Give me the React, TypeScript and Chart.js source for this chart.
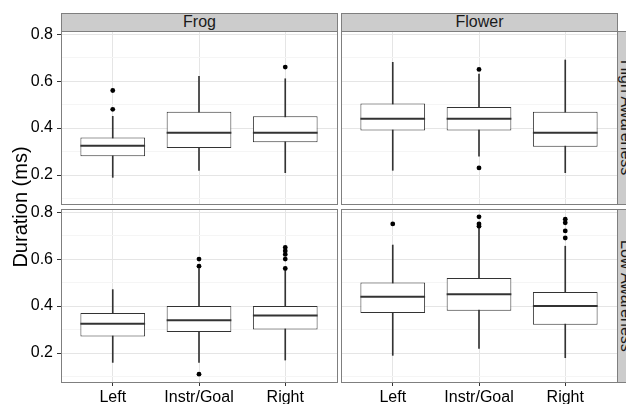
import React, { useEffect, useRef } from 'react';
import { Chart, registerables } from 'chart.js';

Chart.register(...registerables);

// ---------- data ----------
const categories = ['Left', 'Instr/Goal', 'Right'];
const columnLabels = ['Frog', 'Flower'];
const rowLabels = ['High Awareness', 'Low Awareness'];
const yMajorTicks = [0.2, 0.4, 0.6, 0.8];
const yMinorTicks = [0.1, 0.3, 0.5, 0.7];
const yMin = 0.0765;
const yMax = 0.8135;

// Frog / High Awareness
const frogHighLow = [0.19, 0.22, 0.21];
const frogHighQ1 = [0.28, 0.315, 0.34];
const frogHighMedian = [0.325, 0.38, 0.38];
const frogHighQ3 = [0.36, 0.47, 0.45];
const frogHighHigh = [0.45, 0.62, 0.61];
const frogHighOutliers = [[0.48, 0.56], [], [0.66]];

// Flower / High Awareness
const flowerHighLow = [0.22, 0.28, 0.21];
const flowerHighQ1 = [0.39, 0.39, 0.32];
const flowerHighMedian = [0.44, 0.44, 0.38];
const flowerHighQ3 = [0.505, 0.49, 0.47];
const flowerHighHigh = [0.68, 0.63, 0.69];
const flowerHighOutliers = [[], [0.23, 0.65], []];

// Frog / Low Awareness
const frogLowLow = [0.16, 0.16, 0.17];
const frogLowQ1 = [0.27, 0.29, 0.3];
const frogLowMedian = [0.325, 0.34, 0.36];
const frogLowQ3 = [0.37, 0.4, 0.4];
const frogLowHigh = [0.47, 0.56, 0.55];
const frogLowOutliers = [[], [0.11, 0.57, 0.6], [0.56, 0.6, 0.62, 0.635, 0.65]];

// Flower / Low Awareness
const flowerLowLow = [0.19, 0.22, 0.18];
const flowerLowQ1 = [0.37, 0.38, 0.32];
const flowerLowMedian = [0.44, 0.45, 0.4];
const flowerLowQ3 = [0.5, 0.52, 0.46];
const flowerLowHigh = [0.66, 0.73, 0.655];
const flowerLowOutliers = [[0.75], [0.74, 0.75, 0.78], [0.69, 0.72, 0.755, 0.77]];

type BoxSet = {
  low: number[];
  q1: number[];
  median: number[];
  q3: number[];
  high: number[];
  outliers: number[][];
};

const panelData: BoxSet[][] = [
  [
    { low: frogHighLow, q1: frogHighQ1, median: frogHighMedian, q3: frogHighQ3, high: frogHighHigh, outliers: frogHighOutliers },
    { low: flowerHighLow, q1: flowerHighQ1, median: flowerHighMedian, q3: flowerHighQ3, high: flowerHighHigh, outliers: flowerHighOutliers },
  ],
  [
    { low: frogLowLow, q1: frogLowQ1, median: frogLowMedian, q3: frogLowQ3, high: frogLowHigh, outliers: frogLowOutliers },
    { low: flowerLowLow, q1: flowerLowQ1, median: flowerLowMedian, q3: flowerLowQ3, high: flowerLowHigh, outliers: flowerLowOutliers },
  ],
];

// ---------- layout ----------
const W = 626;
const H = 404;
const colBounds = [
  { left: 61, right: 337 },
  { left: 341, right: 617 },
];
const rowBounds = [
  { top: 31, bottom: 204 },
  { top: 209, bottom: 382 },
];
const FONT = "'Liberation Sans', Arial, Helvetica, sans-serif";

Chart.defaults.font.family = FONT;

function makeMedianPlugin(median: number[]) {
  return {
    id: 'medianLines',
    afterDatasetsDraw(chart: any) {
      const meta = chart.getDatasetMeta(1);
      const ys = chart.scales.y;
      const ctx = chart.ctx;
      ctx.save();
      ctx.strokeStyle = '#333333';
      ctx.lineWidth = 2;
      meta.data.forEach((el: any, i: number) => {
        const p = el.getProps(['x', 'width'], true);
        const y = ys.getPixelForValue(median[i]);
        ctx.beginPath();
        ctx.moveTo(p.x - p.width / 2, y);
        ctx.lineTo(p.x + p.width / 2, y);
        ctx.stroke();
      });
      ctx.restore();
    },
  };
}

const panelBorderPlugin = {
  id: 'panelBorder',
  afterDraw(chart: any) {
    const ca = chart.chartArea;
    const ctx = chart.ctx;
    ctx.save();
    ctx.strokeStyle = '#7f7f7f';
    ctx.lineWidth = 1;
    ctx.strokeRect(ca.left + 0.5, ca.top + 0.5, ca.right - ca.left, ca.bottom - ca.top);
    ctx.restore();
  },
};

function Panel({ row, col }: { row: number; col: number }) {
  const ref = useRef<HTMLCanvasElement | null>(null);
  useEffect(() => {
    if (!ref.current) return;
    const d = panelData[row][col];
    const cb = colBounds[col];
    const rb = rowBounds[row];
    const showY = col === 0;
    const showX = row === 1;
    const chart = new Chart(ref.current, {
      type: 'bar',
      data: {
        datasets: [
          {
            type: 'bar',
            data: categories.map((_, i) => ({ x: i + 1, y: [d.low[i], d.high[i]] })) as any,
            backgroundColor: '#333333',
            borderWidth: 0,
            barThickness: 1,
            grouped: false,
            order: 3,
          } as any,
          {
            type: 'bar',
            data: categories.map((_, i) => ({ x: i + 1, y: [d.q1[i], d.q3[i]] })) as any,
            backgroundColor: '#ffffff',
            borderColor: '#333333',
            borderWidth: 1,
            borderSkipped: false,
            grouped: false,
            categoryPercentage: 1,
            barPercentage: 0.75,
            order: 2,
          } as any,
          {
            type: 'scatter',
            data: d.outliers.flatMap((arr, i) => arr.map((v) => ({ x: i + 1, y: v }))),
            pointRadius: 2.4,
            pointBackgroundColor: '#000000',
            pointBorderWidth: 0,
            order: 1,
          } as any,
        ],
      },
      options: {
        animation: false,
        responsive: false,
        events: [],
        layout: {
          padding: {
            left: showY ? 0 : cb.left,
            right: W - cb.right,
            top: rb.top,
            bottom: showX ? 0 : H - rb.bottom,
          },
        },
        plugins: { legend: { display: false }, tooltip: { enabled: false } },
        scales: {
          x: {
            type: 'linear',
            min: 0.4,
            max: 3.6,
            offset: false,
            afterBuildTicks: (s: any) => {
              s.ticks = categories.map((_, i) => ({ value: i + 1 }));
            },
            afterFit: (s: any) => {
              s.height = showX ? H - rb.bottom : 0;
            },
            ticks: {
              display: showX,
              autoSkip: false,
              maxRotation: 0,
              padding: 2,
              color: '#000000',
              font: { size: 16, family: FONT },
              callback: (v: any) => categories[Math.round(Number(v)) - 1],
            },
            grid: {
              color: '#e5e5e5',
              offset: false,
              drawTicks: showX,
              tickLength: 4,
              tickColor: '#333333',
            },
            border: { display: false },
          },
          y: {
            type: 'linear',
            position: 'left',
            min: yMin,
            max: yMax,
            afterBuildTicks: (s: any) => {
              s.ticks = yMajorTicks.map((v) => ({ value: v }));
            },
            afterFit: (s: any) => {
              s.width = showY ? cb.left : 0;
            },
            ticks: {
              display: showY,
              padding: 4,
              color: '#000000',
              font: { size: 16, family: FONT },
              callback: (v: any) => Number(v).toFixed(1),
            },
            grid: {
              color: '#e5e5e5',
              drawTicks: showY,
              tickLength: 4,
              tickColor: '#333333',
            },
            border: { display: false },
          },
          ym: {
            type: 'linear',
            position: 'left',
            min: yMin,
            max: yMax,
            afterBuildTicks: (s: any) => {
              s.ticks = yMinorTicks.map((v) => ({ value: v }));
            },
            afterFit: (s: any) => {
              s.width = 0;
            },
            ticks: { display: false },
            grid: { color: '#f5f5f5', drawTicks: false },
            border: { display: false },
          },
        },
      } as any,
      plugins: [makeMedianPlugin(d.median), panelBorderPlugin],
    });
    return () => chart.destroy();
  }, [row, col]);
  return (
    <canvas
      ref={ref}
      width={W}
      height={H}
      style={{ position: 'absolute', left: 0, top: 0, width: W, height: H }}
    />
  );
}

const stripBase: React.CSSProperties = {
  position: 'absolute',
  boxSizing: 'border-box',
  background: '#cccccc',
  border: '1px solid #7f7f7f',
  color: '#1a1a1a',
  fontFamily: FONT,
  fontSize: 16,
  textAlign: 'center',
  whiteSpace: 'nowrap',
};

export default function App() {
  return (
    <div
      style={{
        position: 'fixed',
        left: 0,
        top: 0,
        width: W,
        height: H,
        overflow: 'hidden',
        background: '#ffffff',
      }}
    >
      {[0, 1].map((r) => [0, 1].map((c) => <Panel key={`${r}-${c}`} row={r} col={c} />))}
      {columnLabels.map((lab, c) => (
        <div
          key={lab}
          style={{
            ...stripBase,
            left: colBounds[c].left,
            top: 13,
            width: colBounds[c].right - colBounds[c].left + 1,
            height: 19,
            lineHeight: '16px',
          }}
        >
          {lab}
        </div>
      ))}
      {rowLabels.map((lab, r) => (
        <div
          key={lab}
          style={{
            ...stripBase,
            left: 617,
            top: rowBounds[r].top,
            width: 19,
            height: rowBounds[r].bottom - rowBounds[r].top + 1,
            lineHeight: '17px',
            writingMode: 'vertical-rl',
            display: 'flex',
            alignItems: 'center',
            justifyContent: 'center',
          }}
        >
          {lab}
        </div>
      ))}
      <div
        style={{
          position: 'absolute',
          left: 19.5 - 100,
          top: 207 - 12,
          width: 200,
          height: 24,
          lineHeight: '24px',
          fontSize: 20,
          fontFamily: FONT,
          color: '#000000',
          textAlign: 'center',
          transform: 'rotate(-90deg)',
          whiteSpace: 'nowrap',
        }}
      >
        Duration (ms)
      </div>
    </div>
  );
}
